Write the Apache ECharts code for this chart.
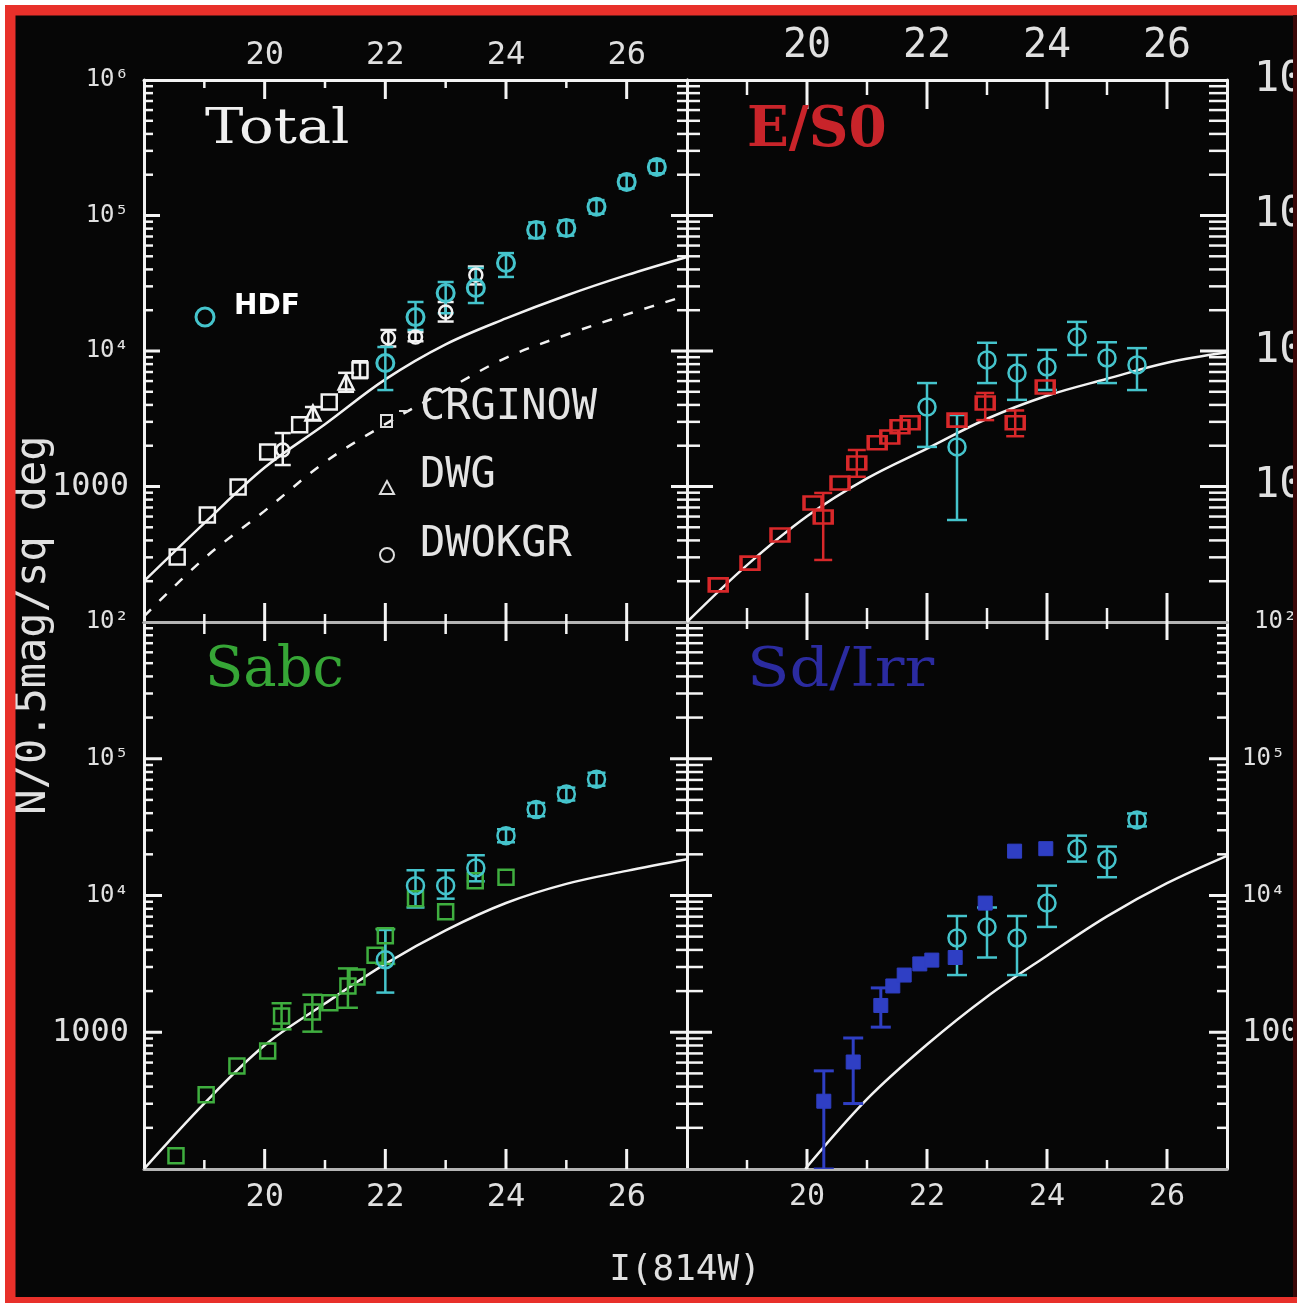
<!DOCTYPE html>
<html><head><meta charset="utf-8">
<script src="https://cdn.jsdelivr.net/npm/echarts@6/dist/echarts.min.js"></script>
<style>html,body{margin:0;padding:0;background:#fff;overflow:hidden}#c{width:1297px;height:1303px}</style>
</head><body><div id="c"></div><script>
// ---------------- tick labels ----------------
const xTickLabels = [20, 22, 24, 26];
const xMinorTickValues = [19, 21, 23, 25];
const yDecadeValues = [100, 1000, 10000, 100000, 1000000];
const yMinorMultipliers = [2, 3, 4, 5, 6, 7, 8, 9];
const yLabelsTopLeft = ['10²', '1000', '10⁴', '10⁵', '10⁶'];
const yLabelsTopRight = ['10²', '1000', '10⁴', '10⁵', '10⁶'];
const yLabelsBottomLeft = ['', '1000', '10⁴', '10⁵', ''];
const yLabelsBottomRight = ['', '1000', '10⁴', '10⁵', ''];
const panelTitles = ['Total', 'E/S0', 'Sabc', 'Sd/Irr'];
const xAxisTitle = 'I(814W)';
const yAxisTitle = 'N/0.5mag/sq deg';

// ---------------- Total panel ----------------
const totalHdfMag = [22.0, 22.5, 23.0, 23.5, 24.0, 24.5, 25.0, 25.5, 26.0, 26.5];
const totalHdfN   = [8150, 17800, 26800, 29200, 44600, 78200, 80900, 116000, 177000, 228000];
const totalHdfLo  = [5150, 14300, 19000, 22600, 35200, 68000, 71000, 103000, 158000, 205000];
const totalHdfHi  = [10700, 23000, 32300, 41000, 52800, 89000, 92000, 130000, 198000, 253000];

const crginowMag = [18.55, 19.05, 19.56, 20.05, 20.58, 21.07, 21.58];
const crginowN   = [302, 617, 991, 1800, 2850, 4210, 7250];
const crginowLo  = [null, null, null, null, null, null, 6300];
const crginowHi  = [null, null, null, null, null, null, 8400];

const dwgMag = [20.8, 21.35];
const dwgN   = [3480, 5900];
const dwgLo  = [3100, 5000];
const dwgHi  = [3860, 6900];

const dwokgrMag = [20.3, 22.05, 22.5, 23.0, 23.5];
const dwokgrN   = [1860, 12500, 12700, 19400, 36400];
const dwokgrLo  = [1440, 10800, 11800, 16500, 31000];
const dwokgrHi  = [2480, 14300, 13800, 23000, 42000];

const modelMag = [18, 19, 20, 21, 22, 23, 24, 25, 26, 27];
const totalModelN   = [200, 537, 1380, 2880, 6170, 11200, 17400, 25700, 36300, 49400];
const totalNoEvolN  = [110, 295, 661, 1514, 2884, 5129, 8913, 13180, 18620, 25700];

// ---------------- E/S0 panel ----------------
const esGroundMag = [18.52, 19.05, 19.55, 20.1, 20.27, 20.55, 20.83, 21.17, 21.38, 21.55, 21.72, 22.5, 22.97, 23.47, 23.97];
const esGroundN   = [188, 272, 438, 755, 596, 1062, 1490, 2100, 2320, 2760, 2950, 3090, 4130, 2950, 5420];
const esGroundLo  = [null, null, null, null, 287, null, 1180, null, null, null, null, null, 3090, 2350, null];
const esGroundHi  = [null, null, null, null, 896, null, 1860, null, null, null, null, null, 4900, 3640, null];

const esHdfMag = [22.0, 22.5, 23.0, 23.5, 24.0, 24.5, 25.0, 25.5];
const esHdfN   = [3860, 1960, 8590, 6880, 7620, 12700, 8880, 7890];
const esHdfLo  = [1960, 566, 5800, 4360, 5160, 9340, 5800, 5150];
const esHdfHi  = [5800, 3370, 11500, 9340, 10200, 16400, 11600, 10500];

const esModelN = [100, 263, 603, 1148, 1905, 3162, 4677, 6237, 8185, 9772];

// ---------------- Sabc panel ----------------
const sabcGroundMag = [18.53, 19.03, 19.54, 20.05, 20.28, 20.79, 21.08, 21.38, 21.53, 21.83, 22.0, 22.5, 23.0, 23.49, 24.0];
const sabcGroundN   = [125, 349, 566, 729, 1316, 1405, 1640, 2180, 2530, 3660, 5070, 9480, 7600, 12800, 13600];
const sabcGroundLo  = [null, null, null, null, 1050, 1010, null, 1510, null, null, 3160, null, null, null, null];
const sabcGroundHi  = [null, null, null, null, 1630, 1880, null, 2930, null, null, 5690, null, null, null, null];

const sabcHdfMag = [22.0, 22.5, 23.0, 23.5, 24.0, 24.5, 25.0, 25.5];
const sabcHdfN   = [3390, 11800, 11800, 15900, 27400, 42500, 55200, 70800];
const sabcHdfLo  = [1950, 8170, 9480, 12700, 24500, 38000, 49500, 63500];
const sabcHdfHi  = [5600, 15300, 15300, 19700, 30500, 47500, 61500, 79000];

const sabcModelN = [100, 302, 803, 1622, 3162, 5559, 8810, 12160, 15140, 18410];

// ---------------- Sd/Irr panel ----------------
const sdGroundMag = [20.28, 20.77, 21.23, 21.43, 21.62, 21.88, 22.08, 22.47, 22.97, 23.46, 23.98];
const sdGroundN   = [313, 606, 1570, 2180, 2620, 3160, 3370, 3520, 8800, 21100, 22000];
const sdGroundLo  = [100, 301, 1090, null, null, null, null, null, null, null, null];
const sdGroundHi  = [522, 908, 2110, null, null, null, null, null, null, null, null];

const sdHdfMag = [22.5, 23.0, 23.5, 24.0, 24.5, 25.0, 25.5];
const sdHdfN   = [4890, 5890, 4890, 8810, 22000, 18300, 35700];
const sdHdfLo  = [2620, 3520, 2620, 5890, 17700, 13600, 32000];
const sdHdfHi  = [7080, 8170, 7080, 11800, 27400, 22800, 39800];

const sdModelMag = [19.97, 21, 22, 23, 24, 25, 26, 27];
const sdModelN   = [100, 324, 813, 1820, 3630, 7030, 12300, 19500];

// ---------------- styling ----------------
const MONO = 'DejaVu Sans Mono';
const LBL = '#e0e0e0';
const CYAN = '#45c4cc';
const RED = '#d8282a';
const GREEN = '#3fae3f';
const BLUE = '#2f3fc4';
const WHITE = '#f2f2f2';
const GREY = '#b4b4b4';

const grids = [
  {left: 144, top: 80, width: 543, height: 542},
  {left: 687, top: 80, width: 540, height: 542},
  {left: 144, top: 622, width: 543, height: 547},
  {left: 687, top: 622, width: 540, height: 547}
];
const tickLen = [
  {xTop: [19, 8], xBot: [19, 8], yL: [16, 9], yR: [16, 10]},
  {xTop: [29, 15], xBot: [29, 14], yL: [26, 13], yR: [27, 18]},
  {xTop: [19, 12], xBot: [20, 9], yL: [18, 9], yR: [17, 11]},
  {xTop: [18, 7], xBot: [20, 9], yL: [25, 16], yR: [18, 10]}
];
const edgeColors = [
  {top: WHITE, bottom: GREY, left: WHITE, right: WHITE},
  {top: WHITE, bottom: GREY, left: WHITE, right: WHITE},
  {top: GREY, bottom: GREY, left: WHITE, right: WHITE},
  {top: GREY, bottom: GREY, left: WHITE, right: WHITE}
];

const rich = {
  s: {fontSize: 24, fontFamily: MONO, color: LBL},
  m: {fontSize: 32, fontFamily: MONO, color: LBL},
  b: {fontSize: 42, fontFamily: MONO, color: LBL}
};
function yFmt(labels, styleOf) {
  return function (v) {
    const i = Math.round(Math.log10(v)) - 2;
    const t = labels[i];
    if (!t) return '';
    return '{' + styleOf(t) + '|' + t + '}';
  };
}
function xFmt(v) {
  const r = Math.round(v);
  return (Math.abs(v - r) < 1e-6 && xTickLabels.indexOf(r) >= 0) ? String(r) : '';
}

// axes
const xAxes = [], yAxes = [];
const xLabelCfg = [
  {top: {show: true, fontSize: 32, margin: 8}, bottom: {show: false}},
  {top: {show: true, fontSize: 40, margin: 13}, bottom: {show: false}},
  {top: {show: false}, bottom: {show: true, fontSize: 32, margin: 13}},
  {top: {show: false}, bottom: {show: true, fontSize: 30, margin: 13}}
];
const yLabelCfg = [
  {left: {show: true, margin: 15, fmt: yFmt(yLabelsTopLeft, t => t === '1000' ? 'm' : 's')}, right: {show: false}},
  {left: {show: false}, right: {show: true, margin: 27, fmt: yFmt(yLabelsTopRight, t => t === '10²' ? 's' : 'b')}},
  {left: {show: true, margin: 15, fmt: yFmt(yLabelsBottomLeft, t => t === '1000' ? 'm' : 's')}, right: {show: false}},
  {left: {show: false}, right: {show: true, margin: 15, fmt: yFmt(yLabelsBottomRight, t => t === '1000' ? 'm' : 's')}}
];
for (let g = 0; g < 4; g++) {
  ['bottom', 'top'].forEach(pos => {
    const lc = xLabelCfg[g][pos];
    xAxes.push({
      gridIndex: g, type: 'value', min: 18, max: 27, interval: 2, position: pos,
      axisLine: {show: true, lineStyle: {color: edgeColors[g][pos], width: 3}},
      axisTick: {show: false}, splitLine: {show: false},
      axisLabel: lc.show ? {show: true, formatter: xFmt, color: LBL, fontFamily: MONO,
        fontSize: lc.fontSize, margin: lc.margin} : {show: false}
    });
  });
  ['left', 'right'].forEach(pos => {
    const lc = yLabelCfg[g][pos];
    yAxes.push({
      gridIndex: g, type: 'log', logBase: 10, min: 100, max: 1000000, position: pos,
      axisLine: {show: true, lineStyle: {color: edgeColors[g][pos], width: 3}},
      axisTick: {show: false}, splitLine: {show: false}, minorTick: {show: false},
      axisLabel: lc.show ? {show: true, formatter: lc.fmt, rich: rich, margin: lc.margin,
        fontFamily: MONO, color: LBL} : {show: false}
    });
  });
}

// helpers
function pts(m, n) { return m.map((x, i) => [x, n[i]]); }
function errData(m, lo, hi) {
  const d = [];
  m.forEach((x, i) => { if (lo[i] != null && hi[i] != null) d.push([x, lo[i], hi[i]]); });
  return d;
}
function errSeries(g, m, lo, hi, color, cap, w) {
  return {
    type: 'custom', xAxisIndex: 2 * g, yAxisIndex: 2 * g, silent: true, z: 3, clip: true,
    data: errData(m, lo, hi),
    renderItem: function (p, api) {
      const a = api.coord([api.value(0), api.value(1)]);
      const b = api.coord([api.value(0), api.value(2)]);
      const h = cap / 2;
      const st = {stroke: color, lineWidth: w};
      return {type: 'group', children: [
        {type: 'line', shape: {x1: a[0], y1: a[1], x2: b[0], y2: b[1]}, style: st},
        {type: 'line', shape: {x1: a[0] - h, y1: a[1], x2: a[0] + h, y2: a[1]}, style: st},
        {type: 'line', shape: {x1: b[0] - h, y1: b[1], x2: b[0] + h, y2: b[1]}, style: st}
      ]};
    }
  };
}
function scatter(g, name, m, n, symbol, size, stroke, fill, bw) {
  return {
    type: 'scatter', name: name, xAxisIndex: 2 * g, yAxisIndex: 2 * g, z: 4, silent: true,
    data: pts(m, n), symbol: symbol, symbolSize: size,
    itemStyle: {color: fill, borderColor: stroke, borderWidth: bw, opacity: 1}
  };
}
function curve(g, name, m, n, type) {
  return {
    type: 'line', name: name, xAxisIndex: 2 * g, yAxisIndex: 2 * g, z: 2, silent: true,
    data: pts(m, n), smooth: 0.35, showSymbol: false, symbol: 'none',
    lineStyle: {color: WHITE, width: 2.5, type: type || 'solid'}
  };
}
function tickSeries(g) {
  const L = tickLen[g];
  const data = [];
  xTickLabels.forEach(v => data.push([v, 1000, 0, 1]));
  xMinorTickValues.forEach(v => data.push([v, 1000, 0, 0]));
  yDecadeValues.slice(1, 4).forEach(v => data.push([20, v, 1, 1]));
  yDecadeValues.slice(0, 4).forEach(d => yMinorMultipliers.forEach(k => data.push([20, d * k, 1, 0])));
  return {
    type: 'custom', xAxisIndex: 2 * g, yAxisIndex: 2 * g, silent: true, z: 1, data: data,
    renderItem: function (p, api) {
      const kind = api.value(2), maj = api.value(3);
      const st = {stroke: '#f4f4f4', lineWidth: maj ? 3 : 2.5};
      if (kind === 0) {
        const v = api.value(0);
        const a = api.coord([v, 1000000]), b = api.coord([v, 100]);
        const lt = maj ? L.xTop[0] : L.xTop[1], lb = maj ? L.xBot[0] : L.xBot[1];
        return {type: 'group', children: [
          {type: 'line', shape: {x1: a[0], y1: a[1], x2: a[0], y2: a[1] + lt}, style: st},
          {type: 'line', shape: {x1: b[0], y1: b[1], x2: b[0], y2: b[1] - lb}, style: st}
        ]};
      }
      const v = api.value(1);
      const a = api.coord([18, v]), b = api.coord([27, v]);
      const ll = maj ? L.yL[0] : L.yL[1], lr = maj ? L.yR[0] : L.yR[1];
      return {type: 'group', children: [
        {type: 'line', shape: {x1: a[0], y1: a[1], x2: a[0] + ll, y2: a[1]}, style: st},
        {type: 'line', shape: {x1: b[0], y1: b[1], x2: b[0] - lr, y2: b[1]}, style: st}
      ]};
    }
  };
}

const series = [];
for (let g = 0; g < 4; g++) series.push(tickSeries(g));
// Total
series.push(curve(0, 'model', modelMag, totalModelN));
series.push(curve(0, 'no evolution', modelMag, totalNoEvolN, [10, 12]));
series.push(errSeries(0, crginowMag, crginowLo, crginowHi, WHITE, 16, 2.5));
series.push(errSeries(0, dwgMag, dwgLo, dwgHi, WHITE, 16, 2.5));
series.push(errSeries(0, dwokgrMag, dwokgrLo, dwokgrHi, WHITE, 16, 2.5));
series.push(scatter(0, 'CRGINOW', crginowMag, crginowN, 'rect', 15, WHITE, 'rgba(0,0,0,0)', 2.5));
series.push(scatter(0, 'DWG', dwgMag, dwgN, 'triangle', 15, WHITE, 'rgba(0,0,0,0)', 2.5));
series.push(scatter(0, 'DWOKGR', dwokgrMag, dwokgrN, 'circle', 13, WHITE, 'rgba(0,0,0,0)', 2.5));
series.push(errSeries(0, totalHdfMag, totalHdfLo, totalHdfHi, CYAN, 16, 2.5));
series.push(scatter(0, 'HDF', totalHdfMag, totalHdfN, 'circle', 17, CYAN, 'rgba(0,0,0,0)', 3));
// E/S0
series.push(curve(1, 'model', modelMag, esModelN));
series.push(errSeries(1, esGroundMag, esGroundLo, esGroundHi, RED, 18, 2.5));
series.push(scatter(1, 'E/S0 ground', esGroundMag, esGroundN, 'rect', [18, 13], RED, 'rgba(0,0,0,0)', 3));
series.push(errSeries(1, esHdfMag, esHdfLo, esHdfHi, CYAN, 20, 2.5));
series.push(scatter(1, 'HDF', esHdfMag, esHdfN, 'circle', 17, CYAN, 'rgba(0,0,0,0)', 2.5));
// Sabc
series.push(curve(2, 'model', modelMag, sabcModelN));
series.push(errSeries(2, sabcGroundMag, sabcGroundLo, sabcGroundHi, GREEN, 20, 2.5));
series.push(scatter(2, 'Sabc ground', sabcGroundMag, sabcGroundN, 'rect', 15, GREEN, 'rgba(0,0,0,0)', 2.5));
series.push(errSeries(2, sabcHdfMag, sabcHdfLo, sabcHdfHi, CYAN, 18, 2.5));
series.push(scatter(2, 'HDF', sabcHdfMag, sabcHdfN, 'circle', 17, CYAN, 'rgba(0,0,0,0)', 2.5));
// Sd/Irr
series.push(curve(3, 'model', sdModelMag, sdModelN));
series.push(errSeries(3, sdGroundMag, sdGroundLo, sdGroundHi, BLUE, 20, 3));
series.push(scatter(3, 'Sd/Irr ground', sdGroundMag, sdGroundN, 'rect', 14, BLUE, BLUE, 1));
series.push(errSeries(3, sdHdfMag, sdHdfLo, sdHdfHi, CYAN, 20, 2.5));
series.push(scatter(3, 'HDF', sdHdfMag, sdHdfN, 'circle', 17, CYAN, 'rgba(0,0,0,0)', 2.5));

function txt(x, y, text, font, fill, extra) {
  return Object.assign({type: 'text', x: x, y: y, silent: true, z: 10,
    style: Object.assign({text: text, font: font, fill: fill, align: 'left', verticalAlign: 'middle',
      textAlign: 'left', textVerticalAlign: 'middle'}, (extra && extra.style) || {})},
    extra && extra.el || {});
}

const graphic = [
  // panel titles
  txt(205, 131, panelTitles[0], '48px "DejaVu Serif"', '#f0f0f0', {el: {scaleX: 1.2}}),
  txt(747, 131, panelTitles[1], 'bold 56px "DejaVu Serif"', '#c8242a', {el: {scaleX: 0.98}}),
  txt(205, 671, panelTitles[2], '56px "DejaVu Serif"', '#36a636', {el: {scaleX: 1.0}}),
  txt(747, 672, panelTitles[3], '54px "DejaVu Serif"', '#2b2ba0', {el: {scaleX: 1.15}}),
  // legend
  {type: 'circle', shape: {cx: 205, cy: 317, r: 9}, style: {fill: 'none', stroke: CYAN, lineWidth: 3}, z: 10, silent: true},
  txt(234, 307, 'HDF', 'bold 28px "DejaVu Sans"', '#ffffff'),
  {type: 'rect', shape: {x: 381, y: 415, width: 11, height: 12}, style: {fill: 'none', stroke: '#dddddd', lineWidth: 2}, z: 10, silent: true},
  {type: 'line', shape: {x1: 399, y1: 411, x2: 408, y2: 411}, style: {stroke: '#dddddd', lineWidth: 2}, z: 10, silent: true},
  txt(420, 408, 'CRGINOW', '42px "DejaVu Sans Mono"', '#e4e4e4'),
  {type: 'polygon', shape: {points: [[387, 481], [380, 494], [394, 494]]}, style: {fill: 'none', stroke: '#dddddd', lineWidth: 2}, z: 10, silent: true},
  txt(420, 476, 'DWG', '42px "DejaVu Sans Mono"', '#e4e4e4'),
  {type: 'circle', shape: {cx: 387, cy: 555, r: 7}, style: {fill: 'none', stroke: '#dddddd', lineWidth: 2}, z: 10, silent: true},
  txt(420, 545, 'DWOKGR', '42px "DejaVu Sans Mono"', '#e4e4e4'),
  // axis titles
  txt(685, 1271, xAxisTitle, '36px "DejaVu Sans Mono"', '#e0e0e0', {style: {align: 'center', textAlign: 'center'}}),
  txt(34, 625, yAxisTitle, '42px "DejaVu Sans Mono"', '#e0e0e0', {style: {align: 'center', textAlign: 'center'}, el: {rotation: Math.PI / 2}}),
  // frame
  {type: 'rect', shape: {x: 0, y: 0, width: 1297, height: 5}, style: {fill: '#ffffff'}, z: 100, silent: true},
  {type: 'rect', shape: {x: 0, y: 0, width: 5, height: 1303}, style: {fill: '#ffffff'}, z: 100, silent: true},
  {type: 'rect', shape: {x: 5, y: 5, width: 1292, height: 10.5}, style: {fill: '#e8302a'}, z: 100, silent: true},
  {type: 'rect', shape: {x: 5, y: 5, width: 10.5, height: 1298}, style: {fill: '#e8302a'}, z: 100, silent: true},
  {type: 'rect', shape: {x: 5, y: 1297, width: 1292, height: 6}, style: {fill: '#e8302a'}, z: 100, silent: true},
  {type: 'rect', shape: {x: 1293, y: 15, width: 4, height: 1282}, style: {fill: '#3a0808'}, z: 100, silent: true}
];

const chart = echarts.init(document.getElementById('c'), null, {renderer: 'canvas', width: 1297, height: 1303});
chart.setOption({
  backgroundColor: '#060606',
  animation: false,
  grid: grids.map(g => Object.assign({containLabel: false, outerBoundsMode: 'none'}, g)),
  xAxis: xAxes,
  yAxis: yAxes,
  series: series,
  graphic: {elements: graphic}
});
</script></body></html>
